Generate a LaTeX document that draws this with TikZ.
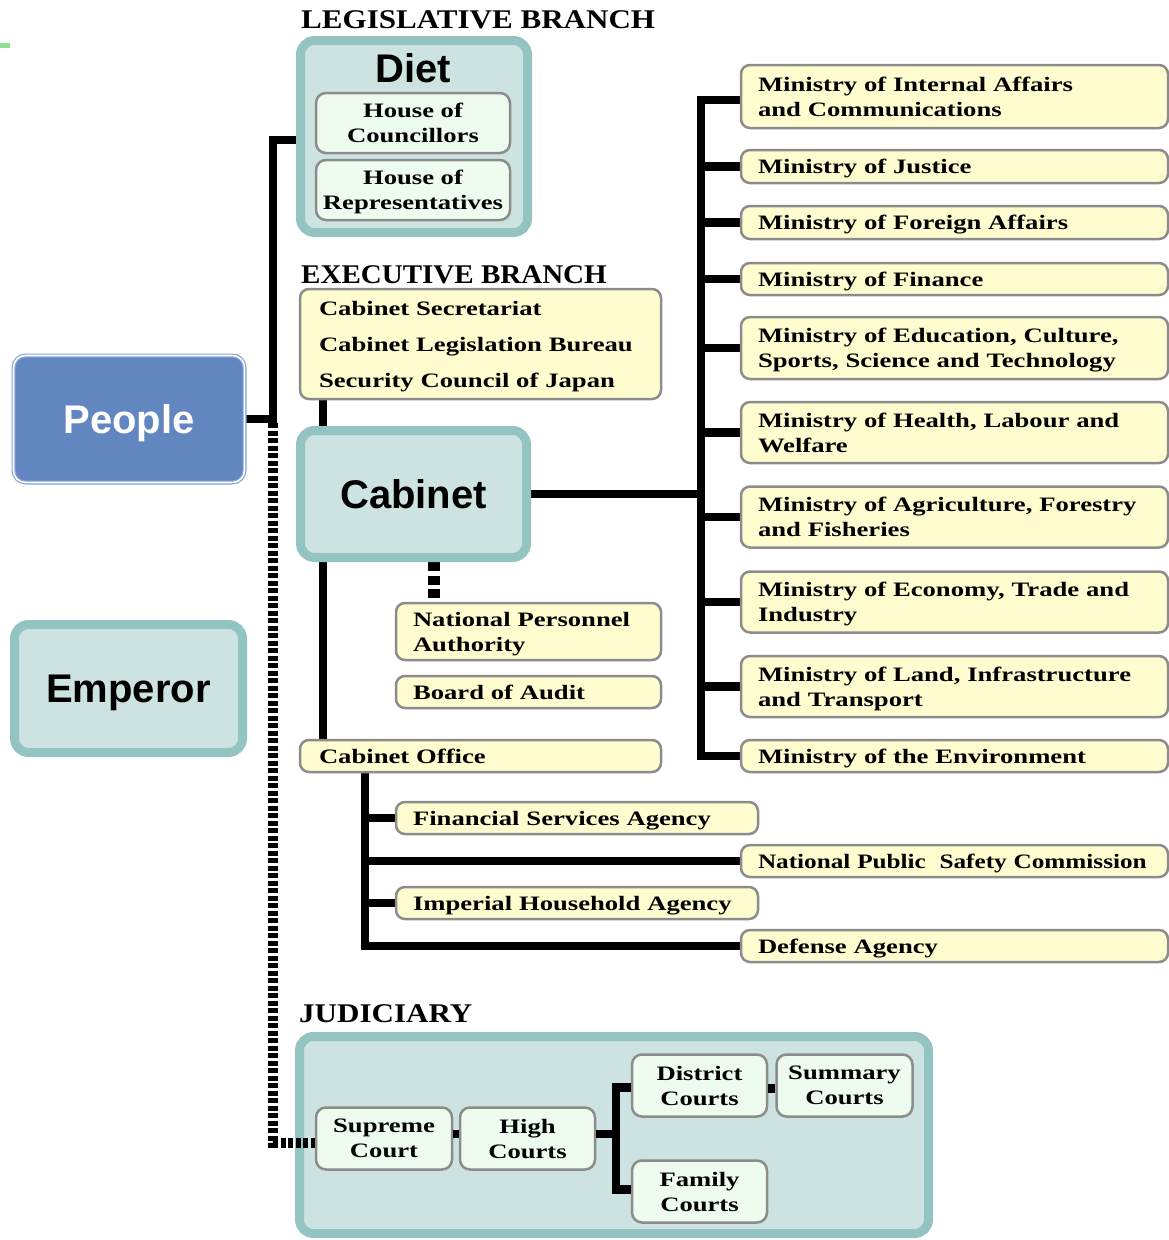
\documentclass[tikz,border=0pt]{standalone}
\usepackage{fontspec}
\usetikzlibrary{backgrounds}
\setmainfont{Liberation Serif}
\newfontfamily\bodyf{Liberation Serif}[FakeStretch=1.3]
\newfontfamily\narf{Liberation Serif}[FakeStretch=1.23]
\newfontfamily\hdrf{Liberation Serif}[FakeStretch=1.15]
\newfontfamily\hdrfb{Liberation Serif}[FakeStretch=1.075]
\newfontfamily\sansf{Liberation Sans}
\definecolor{tealB}{HTML}{94C4C2}
\definecolor{tealF}{HTML}{CDE3E1}
\definecolor{mintF}{HTML}{EEFCF0}
\definecolor{yelF}{HTML}{FFFDD0}
\definecolor{grayB}{HTML}{8C8C8C}
\definecolor{pblue}{HTML}{6286C0}
\definecolor{pline}{HTML}{86A3D8}
\definecolor{gmark}{HTML}{90E090}
\tikzset{
  conn/.style={line width=8.5pt, draw=black},
  dotconn/.style={line width=10pt, draw=black, dash pattern=on 5pt off 2.5pt},
  dotconnb/.style={line width=12pt, draw=black, dash pattern=on 9pt off 4.5pt},
  tealbox/.style={draw=tealB, fill=tealF, line width=9pt, rounded corners=14pt, inner sep=0pt},
  bodytext/.style={font=\bodyf\bfseries\fontsize{20.5}{25}\selectfont},
  ybox/.style={bodytext, draw=grayB, fill=yelF, line width=2.5pt, rounded corners=9pt,
     align=left, inner xsep=17pt, inner ysep=1pt, text depth=0pt},
  twoline/.style={text depth=25pt},
  mbox/.style={bodytext, draw=grayB, fill=mintF, line width=2.5pt, rounded corners=10pt,
     align=center, inner sep=1pt, text depth=0pt},
  bigtext/.style={font=\sansf\bfseries\fontsize{40}{44}\selectfont, text depth=0pt},
  hdr/.style={font=\hdrf\bfseries\fontsize{27}{30}\selectfont, anchor=base west, inner sep=0pt},
  pbox/.style={bigtext, text=white, fill=pblue, draw=pline, line width=1.2pt, double=white,
     double distance=1.6pt, rounded corners=12pt, inner sep=0pt},
}
\begin{document}
\begin{tikzpicture}[x=1pt,y=-1pt]
\useasboundingbox (0,0) rectangle (1169,1240);
\fill[gmark] (0,43) rectangle (10,48);

% ---------- headers
\node[hdr] (legh) at (301,28) {LEGISLATIVE BRANCH};
\node[hdr, font=\hdrfb\bfseries\fontsize{27}{30}\selectfont] (exeh) at (301,283) {EXECUTIVE BRANCH};
\node[hdr] (judh) at (299,1022) {JUDICIARY};

% ---------- legislative
\node[tealbox, minimum width=227pt, minimum height=192pt] (diet) at (414,136.5) {};
\node[bigtext, inner sep=0pt] (diett) at (413,68) {Diet};
\node[mbox, minimum width=194pt, minimum height=60pt] (hoc) at (413,123) {House of\\Councillors};
\node[mbox, minimum width=194pt, minimum height=60pt] (hor) at (413,190) {House of\\Representatives};

% ---------- left
\node[pbox, minimum width=231pt, minimum height=127pt] (ppl) at (129,419) {People};
\node[tealbox, bigtext, minimum width=228pt, minimum height=128pt] (emp) at (128.5,688.5) {Emperor};

% ---------- executive
\node[ybox, inner xsep=19pt, text width=323pt, minimum height=110pt, text depth=72pt,
      font=\bodyf\bfseries\fontsize{20.5}{36}\selectfont] (sec) at (480.5,344)
      {Cabinet Secretariat\\Cabinet Legislation Bureau\\Security Council of Japan};
\node[tealbox, bigtext, minimum width=226pt, minimum height=127pt] (cab) at (413.5,494) {Cabinet};
\node[ybox, twoline, text width=231pt, minimum height=57pt] (npa) at (528.5,631.5) {National Personnel\\Authority};
\node[ybox, text width=231pt, minimum height=32pt] (boa) at (528.5,692) {Board of Audit};
\node[ybox, inner xsep=19pt, text width=323pt, minimum height=32pt] (co) at (480.5,756) {Cabinet Office};
\node[ybox, text width=328pt, minimum height=32pt] (fsa) at (577,818) {Financial Services Agency};
\node[ybox, text width=393pt, minimum height=32pt,
      font=\narf\bfseries\fontsize{20.5}{25}\selectfont] (npsc) at (954.5,861) {\mbox{National Public\ \ Safety Commission}};
\node[ybox, text width=328pt, minimum height=32pt] (iha) at (577,903) {Imperial Household Agency};
\node[ybox, text width=393pt, minimum height=32pt] (def) at (954.5,946) {Defense Agency};

% ---------- ministries
\node[ybox, twoline, text width=393pt, minimum height=63pt] (m1) at (954.5,96.5) {Ministry of Internal Affairs\\and Communications};
\node[ybox, text width=393pt, minimum height=33pt] (m2) at (954.5,166.5) {Ministry of Justice};
\node[ybox, text width=393pt, minimum height=33pt] (m3) at (954.5,222.5) {Ministry of Foreign Affairs};
\node[ybox, text width=393pt, minimum height=32pt] (m4) at (954.5,279) {Ministry of Finance};
\node[ybox, twoline, text width=393pt, minimum height=62pt] (m5) at (954.5,348) {Ministry of Education, Culture,\\Sports, Science and Technology};
\node[ybox, twoline, text width=393pt, minimum height=61pt] (m6) at (954.5,432.5) {Ministry of Health, Labour and\\Welfare};
\node[ybox, twoline, text width=393pt, minimum height=61pt] (m7) at (954.5,517) {Ministry of Agriculture, Forestry\\and Fisheries};
\node[ybox, twoline, text width=393pt, minimum height=61pt] (m8) at (954.5,602) {Ministry of Economy, Trade and\\Industry};
\node[ybox, twoline, text width=393pt, minimum height=61pt] (m9) at (954.5,686.5) {Ministry of Land, Infrastructure\\and Transport};
\node[ybox, text width=393pt, minimum height=32pt] (m10) at (954.5,756) {Ministry of the Environment};

% ---------- judiciary
\node[tealbox, minimum width=629pt, minimum height=197pt] (jud) at (614,1135) {};
\node[mbox, minimum width=136pt, minimum height=62pt] (sup) at (384,1138.5) {Supreme\\Court};
\node[mbox, minimum width=135pt, minimum height=62pt] (high) at (527.5,1138.5) {High\\Courts};
\node[mbox, minimum width=135pt, minimum height=62pt] (dist) at (699.5,1085.5) {District\\Courts};
\node[mbox, minimum width=136pt, minimum height=62pt] (summ) at (844.5,1085.5) {Summary\\Courts};
\node[mbox, minimum width=135pt, minimum height=62pt] (fam) at (699.5,1191.5) {Family\\Courts};

% ---------- spine coordinates
\coordinate (lv) at (273,0);
\coordinate (cx) at (323,0);
\coordinate (nx) at (434,0);
\coordinate (ox) at (365,0);
\coordinate (sp) at (701,0);
\coordinate (bx) at (616,0);

% ---------- connectors
\begin{pgfonlayer}{background}
\draw[conn] ([yshift=-3.5pt]diet.west) -| (lv |- ppl.east);
\draw[conn] (ppl.east) -- ([xshift=4.25pt]lv |- ppl.east);

\draw[conn] (cx |- sec.south) -- (cx |- cab.north);
\draw[conn] (cx |- cab.south) -- (cx |- co.north);
\draw[dotconnb] (nx |- cab.south) -- (nx |- npa.north);

\draw[conn] (cab.east) -- (sp |- cab.east);
\draw[conn] ([yshift=-3.5pt]m1.west) -| (sp |- m10.west) -- (m10.west);
\foreach \m in {m2,m3,m4,m5,m6,m7,m8,m9}{
  \draw[conn] (\m.west) -- (sp |- \m.west);
}

\draw[conn] (ox |- co.south) |- (def.west);
\draw[conn] (fsa.west) -- (ox |- fsa.west);
\draw[conn] (npsc.west) -- (ox |- npsc.west);
\draw[conn] (iha.west) -- (ox |- iha.west);
\end{pgfonlayer}

\draw[dotconn] ([yshift=-4pt]lv |- ppl.east) -- ([yshift=-4.5pt]lv |- sup.west) -- ([yshift=-4.5pt]sup.west);
\draw[conn] ([yshift=4.5pt]sup.east) -- ([yshift=4.5pt]high.west);
\draw[conn] ([yshift=4.5pt]high.east) -- ([yshift=4.5pt]bx |- high.east);
\draw[conn] ([yshift=-2pt]dist.west) -| ([yshift=2pt]bx |- fam.west) -- ([yshift=2pt]fam.west);
\draw[conn] ([yshift=-3pt]dist.east) -- ([yshift=-3pt]summ.west);
\end{tikzpicture}
\end{document}
